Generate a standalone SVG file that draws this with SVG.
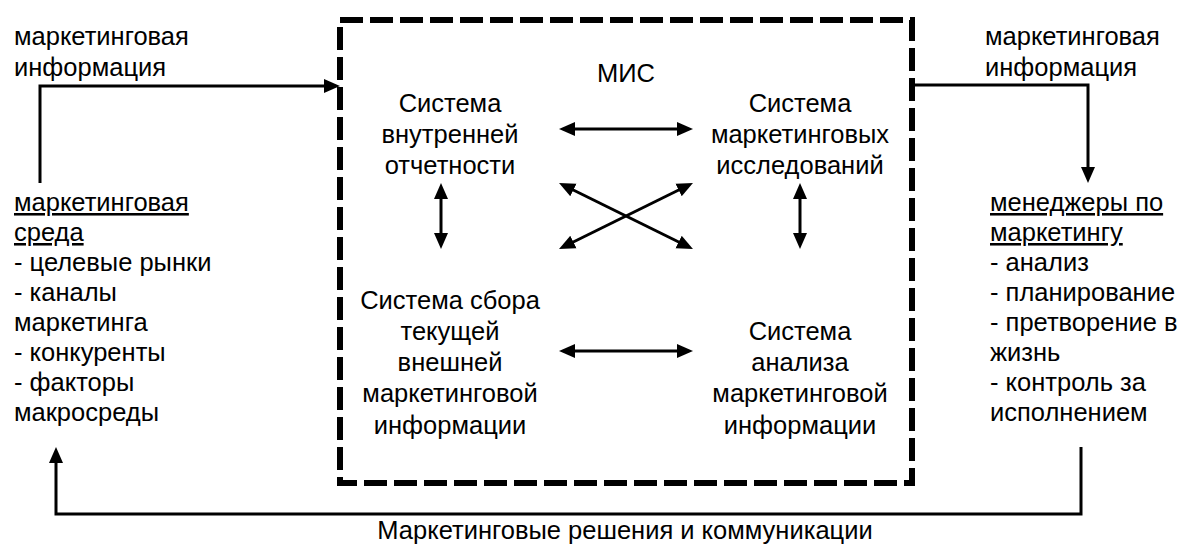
<svg xmlns="http://www.w3.org/2000/svg" width="1190" height="545" viewBox="0 0 1190 545">
<defs>
<style>
text{font-family:"Liberation Sans",Arial,sans-serif;font-size:25.5px;fill:#000}
.c{text-anchor:middle}
.u{text-decoration:underline}
.ln{fill:none;stroke:#000;stroke-width:3}
.box{fill:none;stroke:#000;stroke-width:6;stroke-dasharray:23 7}
</style>
<marker id="ah" markerUnits="userSpaceOnUse" markerWidth="16" markerHeight="16" viewBox="0 0 16 14" refX="8" refY="7" orient="auto-start-reverse">
<path d="M0,0 L16,7 L0,14 z" fill="#000"/>
</marker>
</defs>
<rect fill="#fff" x="0" y="0" width="1190" height="545"/>
<g id="mis">
<rect class="box" x="340" y="20" width="572" height="463"/>
<text class="c" x="626" y="82">МИС</text>
</g>
<g id="internal">
<text class="c" x="450" y="112">Система</text>
<text class="c" x="450" y="143">внутренней</text>
<text class="c" x="450" y="174">отчетности</text>
</g>
<g id="research">
<text class="c" x="800" y="112">Система</text>
<text class="c" x="800" y="143">маркетинговых</text>
<text class="c" x="800" y="174">исследований</text>
</g>
<g id="collection">
<text class="c" x="450" y="309">Система сбора</text>
<text class="c" x="450" y="340">текущей</text>
<text class="c" x="450" y="371">внешней</text>
<text class="c" x="450" y="402">маркетинговой</text>
<text class="c" x="450" y="434">информации</text>
</g>
<g id="analysis">
<text class="c" x="800" y="340">Система</text>
<text class="c" x="800" y="371">анализа</text>
<text class="c" x="800" y="402">маркетинговой</text>
<text class="c" x="800" y="434">информации</text>
</g>
<g id="environment">
<text x="14" y="211" class="u">маркетинговая</text>
<text x="14" y="241" class="u">среда</text>
<text x="14" y="271">- целевые рынки</text>
<text x="14" y="301">- каналы</text>
<text x="14" y="331">маркетинга</text>
<text x="14" y="361">- конкуренты</text>
<text x="14" y="391">- факторы</text>
<text x="14" y="421">макросреды</text>
</g>
<g id="managers">
<text x="990" y="211" class="u">менеджеры по</text>
<text x="990" y="241" class="u">маркетингу</text>
<text x="990" y="271">- анализ</text>
<text x="990" y="301">- планирование</text>
<text x="990" y="331">- претворение в</text>
<text x="990" y="361">жизнь</text>
<text x="990" y="391">- контроль за</text>
<text x="990" y="421">исполнением</text>
</g>
<g id="labels">
<text x="14" y="45">маркетинговая</text>
<text x="14" y="76">информация</text>
<text x="985" y="45">маркетинговая</text>
<text x="985" y="76">информация</text>
<text class="c" x="625" y="539">Маркетинговые решения и коммуникации</text>
</g>
<g id="connectors">
<path class="ln" d="M40,183 V86 H332" marker-end="url(#ah)"/>
<path class="ln" d="M912,85 H1088 V175" marker-end="url(#ah)"/>
<path class="ln" d="M1081,447 V514 H56 V455" marker-end="url(#ah)"/>
<path class="ln" d="M567,129 H685" marker-start="url(#ah)" marker-end="url(#ah)"/>
<path class="ln" d="M567,351 H685" marker-start="url(#ah)" marker-end="url(#ah)"/>
<path class="ln" d="M441,191 V241" marker-start="url(#ah)" marker-end="url(#ah)"/>
<path class="ln" d="M800,191 V241" marker-start="url(#ah)" marker-end="url(#ah)"/>
<path class="ln" d="M566.2,186.5 L685.8,245.5" marker-start="url(#ah)" marker-end="url(#ah)"/>
<path class="ln" d="M566.2,245.5 L685.8,186.5" marker-start="url(#ah)" marker-end="url(#ah)"/>
</g>
</svg>
